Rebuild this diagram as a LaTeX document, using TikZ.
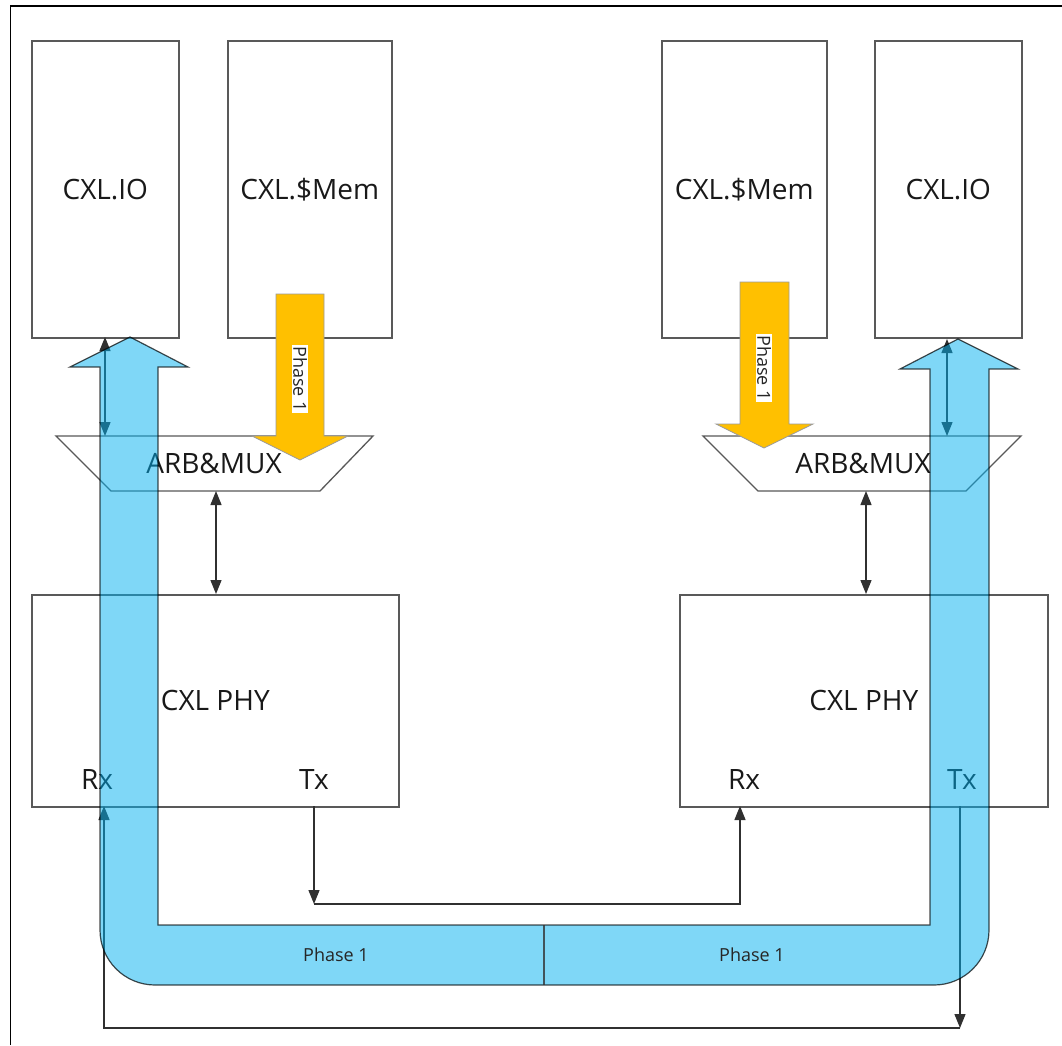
\documentclass[tikz,border=0pt]{standalone}
\usepackage{fontspec}
\setmainfont{Open Sans}
\usetikzlibrary{arrows.meta}
\definecolor{boxline}{HTML}{595959}
\definecolor{linkline}{HTML}{303030}
\definecolor{phaseblue}{HTML}{00B0F0}
\definecolor{phaseorange}{HTML}{FFC000}
\begin{document}
\begin{tikzpicture}[x=1pt,y=-1pt,
  blockbox/.style={draw=boxline,line width=1.6pt,fill=white,anchor=north west,inner sep=0pt},
  bigtext/.style={font=\fontsize{28}{33}\selectfont,text=black!90,inner sep=0pt},
  smalltext/.style={font=\fontsize{18}{21}\selectfont,text=black!85,inner sep=1pt},
  link/.style={draw=linkline,line width=1.3pt,-{Triangle[length=14pt,width=11pt]}},
  dlink/.style={draw=linkline,line width=1.3pt,{Triangle[length=14pt,width=11pt]}-{Triangle[length=14pt,width=11pt]}},
  trap/.style={draw=boxline,line width=1.3pt,fill=white},
  orangearrow/.style={fill=phaseorange,draw=boxline!60,line width=0.8pt},
  bluearrow/.style={fill=phaseblue,fill opacity=0.5,draw=black,draw opacity=0.7,line width=1.2pt}
]
\useasboundingbox (0,0) rectangle (1062,1045);
\fill[white] (0,0) rectangle (1062,1045);
% frame
\draw[line width=1.6pt] (10.5,1045) -- (10.5,6) -- (1062,6);

% top blocks
\node[blockbox,minimum width=147pt,minimum height=297pt] (io1) at (31,40) {};
\node[bigtext] at (io1.center) {CXL.IO};
\node[blockbox,minimum width=164pt,minimum height=297pt] (mem1) at (227,40) {};
\node[bigtext] at (mem1.center) {CXL.\$Mem};
\node[blockbox,minimum width=165pt,minimum height=297pt] (mem2) at (661,40) {};
\node[bigtext] at (mem2.center) {CXL.\$Mem};
\node[blockbox,minimum width=147pt,minimum height=297pt] (io2) at (874,40) {};
\node[bigtext] at (io2.center) {CXL.IO};

% PHY blocks
\node[blockbox,minimum width=367pt,minimum height=212pt] (phy1) at (31,594) {};
\node[bigtext] at (phy1.center) {CXL PHY};
\node[blockbox,minimum width=368pt,minimum height=212pt] (phy2) at (679,594) {};
\node[bigtext] at (phy2.center) {CXL PHY};
\node[bigtext] (rx1) at (97,779) {Rx};
\node[bigtext] (tx1) at (314,779) {Tx};
\node[bigtext] (rx2) at (744,779) {Rx};
\node[bigtext] (tx2) at (962,779) {Tx};

% ARB&MUX trapezoids
\draw[trap] (56,436) -- (373,436) -- (320,491) -- (111,491) -- cycle;
\draw[trap] (703,436) -- (1021,436) -- (966,491) -- (758,491) -- cycle;
\node[bigtext] (arb1) at (214,463) {ARB\&MUX};
\node[bigtext] (arb2) at (863,463) {ARB\&MUX};

% coordinates for connectors
\coordinate (io1b) at (105,337);
\coordinate (arb1t) at (105,436);
\coordinate (io2b) at (947,339);
\coordinate (arb2t) at (947,436);
\coordinate (arb1b) at (216,491);
\coordinate (phy1t) at (216,594);
\coordinate (arb2b) at (866,491);
\coordinate (phy2t) at (866,594);
\coordinate (tx1b) at (314,806);
\coordinate (c1) at (314,904);
\coordinate (rx2b) at (740,806);
\coordinate (tx2b) at (960,806);
\coordinate (c2) at (960,1028);
\coordinate (rx1b) at (104,806);

% black connectors
\draw[dlink] (io1b) -- (arb1t);
\draw[dlink] (io2b) -- (arb2t);
\draw[dlink] (arb1b) -- (phy1t);
\draw[dlink] (arb2b) -- (phy2t);
\draw[link] (tx1b) -- (c1);
\draw[link] (c1) -| (rx2b);
\draw[link] (tx2b) -- (c2);
\draw[link] (c2) -| (rx1b);

% orange phase 1 arrows
\draw[orangearrow] (276,294) -- (324,294) -- (324,436) -- (348,436) -- (300,460) -- (252,436) -- (276,436) -- cycle;
\node[smalltext,fill=white,rotate=-90] (ph1) at (300,379) {Phase 1};
\draw[orangearrow] (740,282) -- (789,282) -- (789,424) -- (813,424) -- (764,448) -- (716,424) -- (740,424) -- cycle;
\node[smalltext,fill=white,rotate=-90] (ph2) at (764,368) {Phase 1};

% blue phase 1 U-shaped path
\draw[bluearrow] (130,337) -- (188,367) -- (158,367) -- (158,925) -- (930,925) -- (930,369)
  -- (900,369) -- (958,339) -- (1018,369) -- (989,369) -- (989,930)
  arc[start angle=0,end angle=-90,radius=55pt] -- (155,985)
  arc[start angle=-90,end angle=-180,radius=55pt] -- (100,367) -- (70,367) -- cycle;
\coordinate (divt) at (544,925);
\coordinate (divb) at (544,985);
\draw[black!80,line width=2pt,opacity=0.8] (divt) -- (divb);
\node[smalltext] (pb1) at (336,955) {Phase 1};
\node[smalltext] (pb2) at (752,955) {Phase 1};
\end{tikzpicture}
\end{document}
